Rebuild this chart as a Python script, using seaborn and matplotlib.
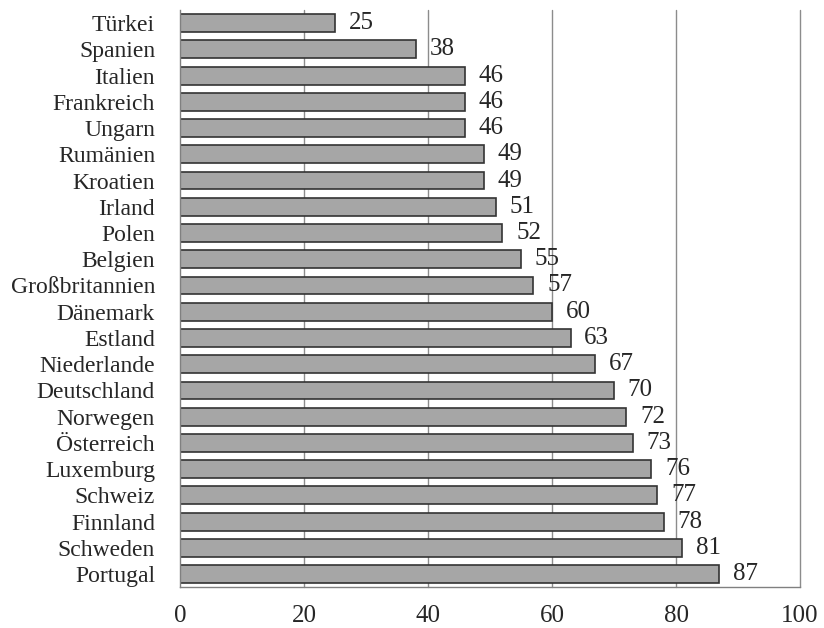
import matplotlib
matplotlib.use("Agg")
import matplotlib.pyplot as plt
from matplotlib.ticker import FixedLocator
import seaborn as sns
import pandas as pd

countries = ["Türkei", "Spanien", "Italien", "Frankreich", "Ungarn", "Rumänien",
             "Kroatien", "Irland", "Polen", "Belgien", "Großbritannien", "Dänemark",
             "Estland", "Niederlande", "Deutschland", "Norwegen", "Österreich",
             "Luxemburg", "Schweiz", "Finnland", "Schweden", "Portugal"]
values = [25, 38, 46, 46, 46, 49, 49, 51, 52, 55, 57, 60, 63, 67, 70, 72, 73,
          76, 77, 78, 81, 87]
x_ticks = [0, 20, 40, 60, 80, 100]

df = pd.DataFrame({"land": countries, "wert": values})

sns.set_style("white")
plt.rcParams["font.family"] = ["Liberation Serif", "DejaVu Serif"]

fig = plt.figure(figsize=(8.24, 6.28), dpi=100)
ax = fig.add_axes([0.2185, 0.065, 0.7525, 0.919])

sns.barplot(data=df, x="wert", y="land", orient="h", color="#a6a6a6",
            edgecolor="#333333", linewidth=1.2, width=0.68, saturation=1, ax=ax)

ax.set_xlim(0, 100)
ax.set_ylim(len(countries) - 0.5, -0.5)
ax.set_xticks(x_ticks)
ax.set_xticklabels([str(t) for t in x_ticks], fontsize=18)
ax.tick_params(axis="x", direction="out", length=6, width=1, color="#808080", pad=7)

# category labels without major ticks; tick marks sit on the category boundaries
ax.tick_params(axis="y", which="major", length=0, pad=18, labelsize=17)
ax.yaxis.set_minor_locator(FixedLocator([i - 0.5 for i in range(len(countries) + 1)]))
ax.tick_params(axis="y", which="minor", direction="out", length=5, width=1, color="#808080")
ax.set_xlabel("")
ax.set_ylabel("")

for t in x_ticks[1:]:
    ax.axvline(t, color="#8c8c8c", linewidth=1, zorder=0, clip_on=False)
ax.set_axisbelow(True)

for side in ["top", "right"]:
    ax.spines[side].set_visible(False)
for side in ["left", "bottom"]:
    ax.spines[side].set_color("#808080")
    ax.spines[side].set_linewidth(1)

for i, v in enumerate(values):
    ax.text(v + 2.2, i, str(v), va="center", ha="left", fontsize=18)

fig.savefig("out.png", dpi=100)
